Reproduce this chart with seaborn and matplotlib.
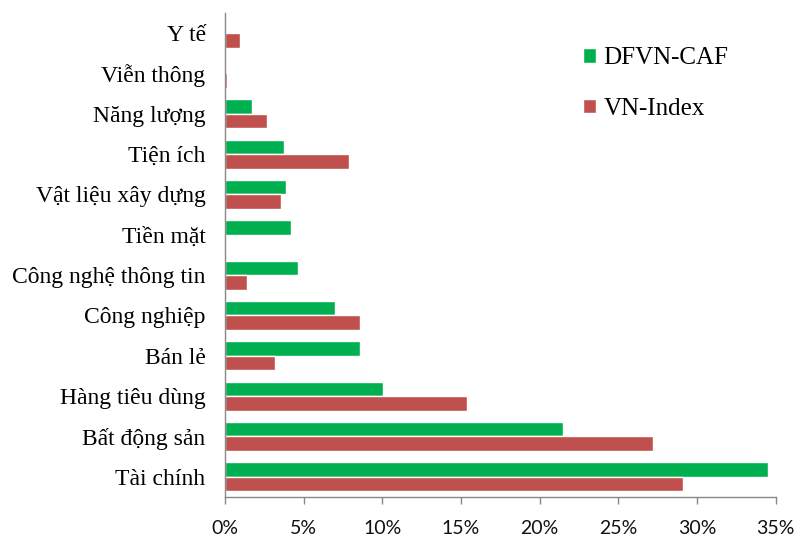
import matplotlib
matplotlib.use("Agg")
import matplotlib.pyplot as plt
import seaborn as sns
import pandas as pd
import numpy as np
from matplotlib.ticker import FuncFormatter, FixedLocator

categories = ["Y tế", "Viễn thông", "Năng lượng", "Tiện ích", "Vật liệu xây dựng",
              "Tiền mặt", "Công nghệ thông tin", "Công nghiệp", "Bán lẻ",
              "Hàng tiêu dùng", "Bất động sản", "Tài chính"]
series = ["DFVN-CAF", "VN-Index"]
dfvn_caf = [0.0, 0.0, 1.7, 3.75, 3.85, 4.2, 4.65, 7.0, 8.6, 10.05, 21.5, 34.5]
vn_index = [0.95, 0.15, 2.65, 7.9, 3.55, 0.0, 1.4, 8.6, 3.2, 15.4, 27.2, 29.1]
x_ticks = [0, 5, 10, 15, 20, 25, 30, 35]

colors = {"DFVN-CAF": "#00B050", "VN-Index": "#C0504D"}

df = pd.DataFrame({
    "category": categories * 2,
    "series": [series[0]] * len(categories) + [series[1]] * len(categories),
    "value": dfvn_caf + vn_index,
})

sns.set_style("white")
fig = plt.figure(figsize=(7.98, 5.36), dpi=100)
ax = fig.add_axes([0.282, 0.073, 0.69, 0.903])

sns.barplot(data=df, y="category", x="value", hue="series", order=categories,
            hue_order=series, palette=colors, orient="h", width=0.72,
            saturation=1, ax=ax)

ax.set_xlim(0, 35)
ax.set_ylim(len(categories) - 0.5, -0.5)
ax.set_xticks(x_ticks)
ax.xaxis.set_major_formatter(FuncFormatter(lambda v, p: f"{v:.0f}%"))
ax.set_xlabel("")
ax.set_ylabel("")

for lab in ax.get_xticklabels():
    lab.set_fontfamily("Lato")
    lab.set_fontsize(14)
    lab.set_color("#111111")
for lab in ax.get_yticklabels():
    lab.set_fontfamily("Liberation Serif")
    lab.set_fontsize(17)
    lab.set_color("#000000")

# tick marks between categories on y, outward ticks on x
ax.tick_params(axis="y", which="major", length=0, pad=14)
ax.yaxis.set_minor_locator(FixedLocator(np.arange(-0.5, len(categories), 1)))
ax.tick_params(axis="y", which="minor", length=5, color="#888888", width=1)
ax.tick_params(axis="x", which="major", length=5, color="#888888", width=1,
               direction="out", bottom=True, pad=12)

for side in ["top", "right"]:
    ax.spines[side].set_visible(False)
for side in ["left", "bottom"]:
    ax.spines[side].set_color("#888888")
    ax.spines[side].set_linewidth(1)

handles, labels = ax.get_legend_handles_labels()
leg = ax.legend(handles, labels, loc="upper left", bbox_to_anchor=(0.61, 0.975),
                frameon=False, handlelength=0.5, handleheight=0.5,
                handletextpad=0.3, labelspacing=1.15,
                prop={"family": "Liberation Serif", "size": 18})
for t in leg.get_texts():
    t.set_color("#000000")

fig.savefig("out.png", dpi=100)
